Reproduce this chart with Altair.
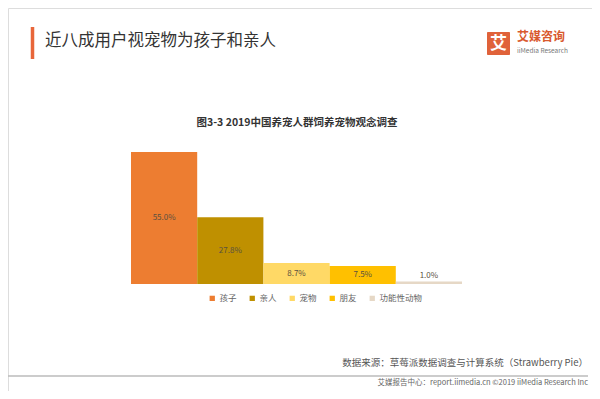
import altair as alt
import pandas as pd

categories = ["孩子", "亲人", "宠物", "朋友", "功能性动物"]
values = [55.0, 27.8, 8.7, 7.5, 1.0]
colors = ["#ED7D31", "#BF9000", "#FFD966", "#FFC000", "#E6D8C6"]

df = pd.DataFrame({"cat": categories, "v": values})
df["label"] = [f"{v:.1f}%" for v in values]
df["ly"] = [max(v / 2, 3.3) for v in values]

FONT = "Noto Sans CJK SC"

xs = alt.Scale(domain=categories, range=[123, 454], paddingInner=0, paddingOuter=0)
ys = alt.Scale(domain=[0, 55], range=[276, 144], nice=False, zero=True)

bars = alt.Chart(df).mark_bar(size=66.2).encode(
    x=alt.X("cat:N", scale=xs, sort=categories, axis=None),
    y=alt.Y("v:Q", scale=ys, axis=None),
    color=alt.Color(
        "cat:N",
        scale=alt.Scale(domain=categories, range=colors),
        sort=categories,
        legend=alt.Legend(
            orient="none", legendX=200, legendY=286, direction="horizontal",
            title=None, symbolType="square", symbolSize=28, symbolStrokeWidth=0,
            labelFontSize=8.5, labelColor="#666666", labelFont=FONT,
            columnPadding=11, labelOffset=3, padding=0, columns=5,
        ),
    ),
)

labels = alt.Chart(df).mark_text(fontSize=8, color="#5a5040", font=FONT, baseline="middle").encode(
    x=alt.X("cat:N", scale=xs, sort=categories, axis=None),
    y=alt.Y("ly:Q", scale=ys, axis=None),
    text="label:N",
)


def txt(s, x, y, size, color, align="left", weight="normal"):
    return alt.Chart(pd.DataFrame({"t": [s]})).mark_text(
        align=align, baseline="middle", fontSize=size, color=color,
        fontWeight=weight, font=FONT,
    ).encode(x=alt.value(x), y=alt.value(y), text="t:N")


accent = alt.Chart(pd.DataFrame({"a": [0]})).mark_rule(color="#E8663A", strokeWidth=3.5).encode(
    x=alt.value(24.5), y=alt.value(19), y2=alt.value(51)
)
logo_box = alt.Chart(pd.DataFrame({"a": [0]})).mark_rect(color="#E0623A", cornerRadius=1).encode(
    x=alt.value(479), x2=alt.value(502), y=alt.value(24), y2=alt.value(47)
)
line = alt.Chart(pd.DataFrame({"a": [0]})).mark_rule(color="#BBBBBB", strokeWidth=1.5).encode(
    x=alt.value(-1), x2=alt.value(580), y=alt.value(368)
)

chart = alt.layer(
    bars,
    labels,
    accent,
    txt("近八成用户视宠物为孩子和亲人", 37, 33, 16.5, "#333333"),
    logo_box,
    txt("艾", 490.5, 35.5, 17, "#FFFFFF", align="center", weight="bold"),
    txt("艾媒咨询", 509, 29, 12, "#D9592E", weight="bold"),
    txt("iiMedia Research", 509, 43, 6.5, "#777777"),
    txt("图3-3 2019中国养宠人群饲养宠物观念调查", 289, 115, 10.5, "#333333", align="center", weight="bold"),
    txt("数据来源：草莓派数据调查与计算系统（Strawberry Pie）", 580, 355, 9.5, "#555555", align="right"),
    line,
    txt("艾媒报告中心：report.iimedia.cn   ©2019  iiMedia Research Inc", 580, 375, 7.5, "#666666", align="right"),
).properties(
    width=584, height=383, autosize=alt.AutoSizeParams(type="none"), padding=0
).configure_view(stroke=None).configure(font=FONT, background="white")

chart.save("out.html", embed_options={"renderer": "svg", "actions": False})
